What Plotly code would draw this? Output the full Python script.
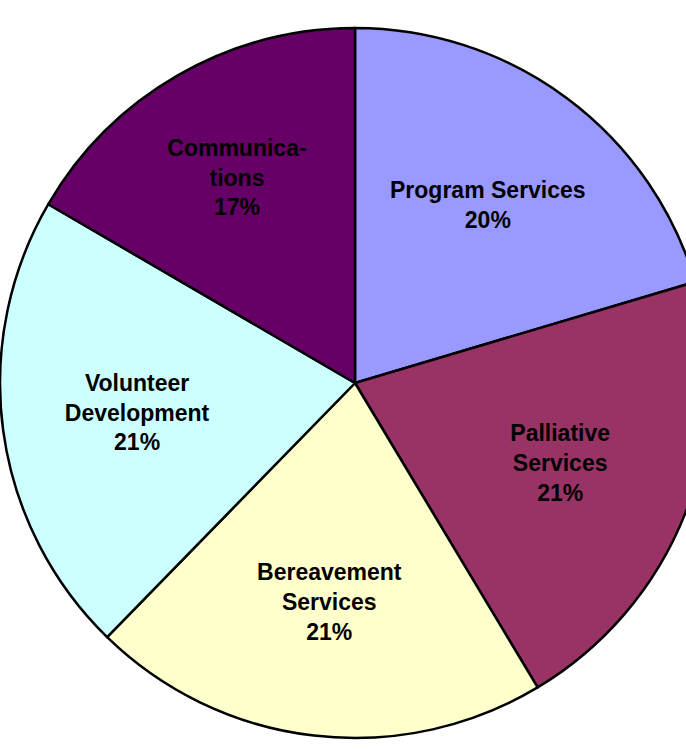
import plotly.graph_objects as go

labels = ["Program Services", "Palliative Services", "Bereavement Services",
          "Volunteer Development", "Communications"]
label_text = ["Program Services", "Palliative<br>Services", "Bereavement<br>Services",
              "Volunteer<br>Development", "Communica-<br>tions"]
values = [20.4, 21.0, 20.9, 21.1, 16.6]
colors = ["#9999FF", "#993366", "#FFFFCC", "#CCFFFF", "#660066"]

fig = go.Figure(go.Pie(
    labels=labels,
    values=values,
    text=label_text,
    texttemplate="%{text}<br>%{percent:.0%}",
    textposition="inside",
    insidetextorientation="horizontal",
    sort=False,
    direction="clockwise",
    rotation=0,
    marker=dict(colors=colors, line=dict(color="black", width=2.5)),
    textfont=dict(family="Liberation Sans, Arial, sans-serif", size=23, color="black", weight="bold"),
    hoverinfo="label+percent",
    showlegend=False,
    domain=dict(x=[0, 1], y=[0, 1]),
))

fig.update_layout(
    width=710, height=766,
    margin=dict(l=0, r=0, t=0, b=0),
    paper_bgcolor="white",
    plot_bgcolor="white",
    showlegend=False,
)

fig.write_html("out.html", config={"displayModeBar": False},
               post_script="document.body.style.margin='0';document.body.style.overflow='hidden';")
